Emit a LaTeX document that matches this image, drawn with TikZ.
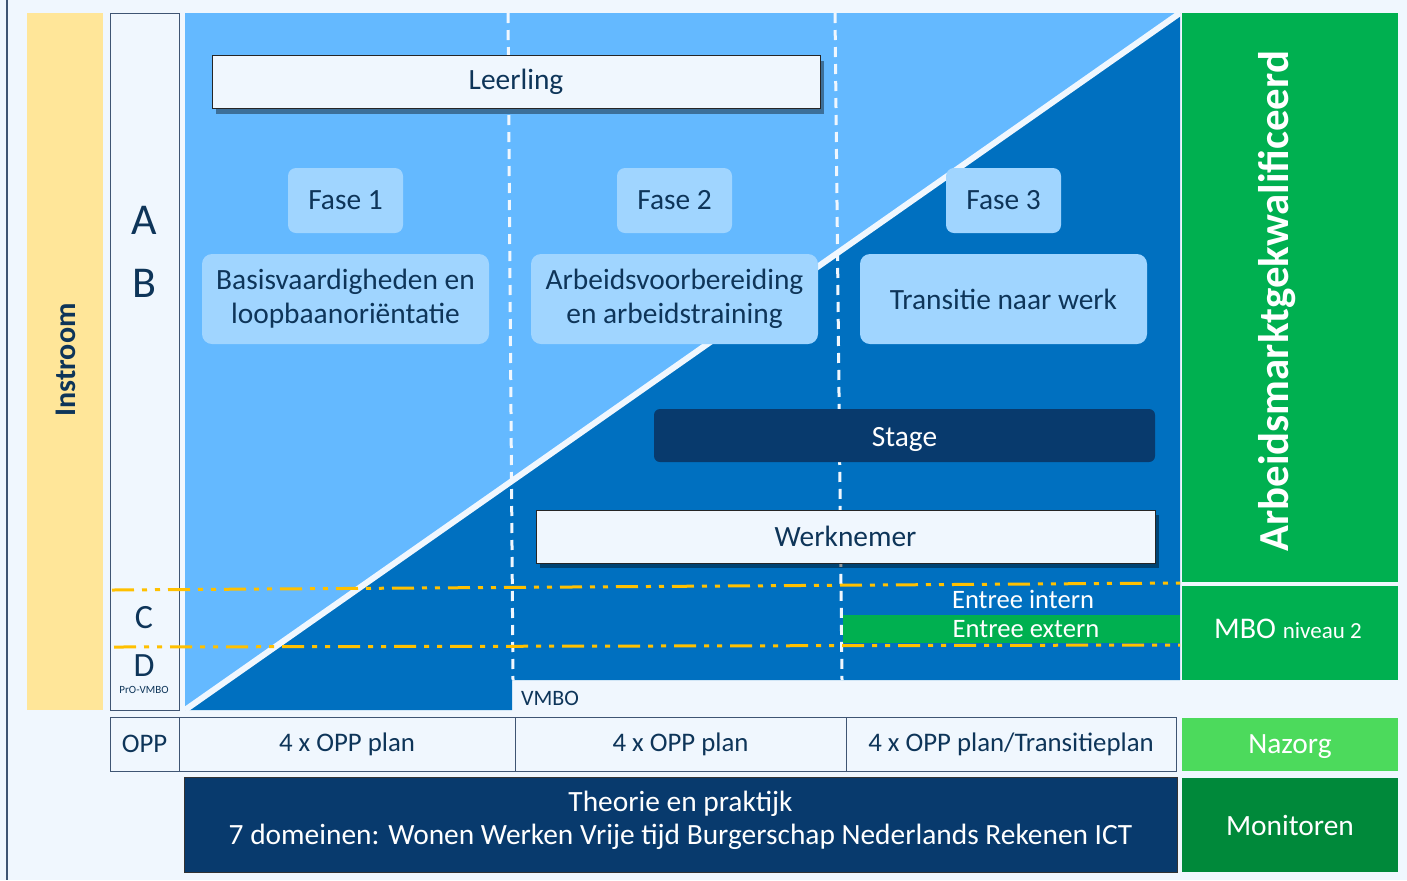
\documentclass[tikz,border=0pt]{standalone}
\usepackage{fontspec}
\setmainfont{Carlito}
\usepackage{tikz}
\usetikzlibrary{positioning, shadows}
\definecolor{bgblue}{HTML}{F0F7FE}
\definecolor{instroomyellow}{HTML}{FFE699}
\definecolor{lightblue}{HTML}{64B9FF}
\definecolor{midblue}{HTML}{0070C0}
\definecolor{fasefill}{HTML}{A0D5FF}
\definecolor{navy}{HTML}{083A6D}
\definecolor{textnavy}{HTML}{0E3559}
\definecolor{linegray}{HTML}{3F5573}
\definecolor{mbogreen}{HTML}{00B050}
\definecolor{nazorggreen}{HTML}{4CDA5C}
\definecolor{monitorgreen}{HTML}{00893A}
\definecolor{entreeyellow}{HTML}{FFC000}

\begin{document}
\begin{tikzpicture}[x=0.5pt, y=-0.5pt,
	darktext/.style={text=textnavy, font=\fontsize{14.7}{17}\selectfont, inner sep=0pt},
	whitetext/.style={text=white, font=\fontsize{14.7}{17}\selectfont, inner sep=0pt},
	rolbox/.style={darktext, draw=black!85, fill=bgblue, minimum height=26.5pt, drop shadow={shadow xshift=2pt, shadow yshift=-2.5pt, opacity=0.4, fill=black}},
	fasebox/.style={darktext, fill=fasefill, rounded corners=4pt, minimum width=57.5pt, minimum height=32.5pt},
	descbox/.style={darktext, fill=fasefill, rounded corners=5pt, align=center, minimum width=143.5pt, minimum height=45pt},
	oppcell/.style={darktext, draw=linegray, fill=bgblue, minimum height=27pt, font=\fontsize{13.4}{16}\selectfont},
	greenbox/.style={whitetext, minimum width=108pt},
	phaseline/.style={bgblue, line width=1.5pt, dash pattern=on 5pt off 3.5pt},
	niveauline/.style={entreeyellow, line width=1.5pt, dash pattern=on 11pt off 4pt on 2.5pt off 4pt on 2.5pt off 4pt},
]

\useasboundingbox (0,0) rectangle (1407,880);
\fill[bgblue] (0,0) rectangle (1407,880); % page
\draw[linegray, line width=0.7pt] (7,0) -- (7,880); % left edge

% instroom and levels
\fill[instroomyellow] (27,13) rectangle (103,710);
\node[darktext, font=\fontsize{15}{17}\selectfont\bfseries, rotate=90] (instroom) at (66,360) {Instroom};
\draw[linegray, fill=bgblue] (110,13) rectangle (179,710);
\node[darktext, font=\fontsize{22}{26}\selectfont] (niva) at (144,220) {A};
\node[darktext, font=\fontsize{22}{26}\selectfont] (nivb) at (144,283) {B};
\node[darktext, font=\fontsize{17}{20}\selectfont] (nivc) at (144,618) {C};
\node[darktext, font=\fontsize{17}{20}\selectfont] (nivd) at (144,666) {D};
\node[darktext, font=\fontsize{5.5}{7}\selectfont] (provmbo) at (144,690) {PrO-VMBO};

% leerling / werknemer triangles
\fill[lightblue] (185,13) -- (1180,13) -- (185,710) -- cycle;
\fill[midblue] (185,710) -- (1180,13) -- (1180,680) -- (512,680) -- (512,710) -- cycle;
\draw[bgblue, line width=3pt] (185,710) -- (1180,13); % diagonal
\node[darktext, font=\fontsize{11}{13}\selectfont] (vmbo) at (550,698) {VMBO};

% phase borders
\draw[phaseline] (508,13) -- (513,680);
\draw[phaseline] (835,13) -- (842,680);

% entree levels
\draw[niveauline] (112,590) -- (1180,583);
\draw[niveauline] (114,647) -- (1180,645);
\fill[mbogreen] (843,615) rectangle (1180,643);
\node[whitetext, font=\fontsize{13.3}{16}\selectfont] (intern) at (1023,599) {Entree intern};
\node[whitetext, font=\fontsize{13.3}{16}\selectfont] (extern) at (1026,629) {Entree extern};

\node[rolbox, minimum width=304pt] (leerling) at (516,82) {Leerling};

\foreach \i/\xc/\desc in {1/345.5/{Basisvaardigheden en\\loopbaanoriëntatie}, 2/674.5/{Arbeidsvoorbereiding\\en arbeidstraining}, 3/1003.5/{Transitie naar werk}} {
	\node[fasebox] (fase\i) at (\xc,200.5) {Fase \i};
	\node[descbox] (desc\i) at (\xc,299) {\desc};
}

\node[fill=navy, rounded corners=3pt, minimum width=250.5pt, minimum height=26.5pt] (stage) at (904.5,435.5) {};
\node[whitetext] (stagetext) at (904.5,439) {Stage};
\node[rolbox, minimum width=309.5pt] (werknemer) at (845.5,536.5) {Werknemer};

% outcome column
\fill[mbogreen] (1182,13) rectangle (1398,582);
\fill[mbogreen] (1182,586) rectangle (1398,680);
\node[text=white, font=\fontsize{21.4}{26}\selectfont\bfseries, rotate=90] (arbeidsmarkt) at (1277,301) {Arbeidsmarktgekwalificeerd};
\node[whitetext, font=\fontsize{15}{18}\selectfont] (mbo) at (1288,629) {MBO {\fontsize{11.5}{14}\selectfont niveau 2}};
\node[greenbox, fill=nazorggreen, minimum height=26.5pt] (nazorg) at (1290,744.5) {};
\node[whitetext] (nazorgtext) at (1290,747) {Nazorg};
\node[greenbox, fill=monitorgreen, minimum height=47pt] (monitoren) at (1290,825) {Monitoren};

% opp row
\node[oppcell, minimum width=34.5pt] (opp) at (144.5,744) {OPP};
\node[oppcell, minimum width=168pt] (opp1) at (347,744) {4 x OPP plan};
\node[oppcell, minimum width=165.5pt] (opp2) at (680.5,744) {4 x OPP plan};
\node[oppcell, minimum width=165pt] (opp3) at (1011,744) {4 x OPP plan/Transitieplan};

\node[draw=black!80, fill=navy, minimum width=496.5pt, minimum height=47.5pt] (theorie) at (680.5,824.5) {};
\node[whitetext, align=center, font=\fontsize{14.7}{16.5}\selectfont] (theorietext) at (680.5,820.5) {Theorie en praktijk\\7 domeinen: Wonen Werken Vrije tijd Burgerschap Nederlands Rekenen ICT};

\end{tikzpicture}
\end{document}
